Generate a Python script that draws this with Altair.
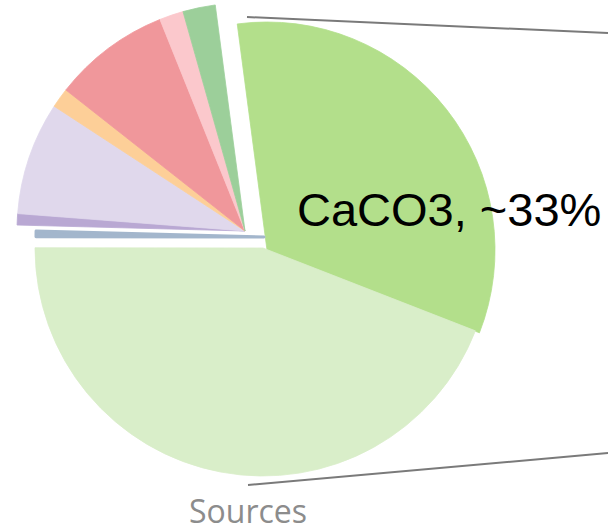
import math

import altair as alt
import pandas as pd

# Pie slices, listed clockwise from the CaCO3 wedge
sources = ["CaCO3", "Source B", "Source C", "Source D", "Source E",
           "Source F", "Source G", "Source H", "Source I"]
shares = [33, 44.1, 0.4, 0.8, 8.0, 1.4, 8.3, 1.7, 2.3]
colors = ["#b3df8b", "#d9eec9", "#a3b6cc", "#b9a8d3", "#e0d8ec",
          "#fdcf98", "#f0979b", "#fbc8cc", "#9ccf9a"]

chart_title = "Sources"

# Layout / styling (kept apart from the data)
W, H = 608, 531
RADIUS = 228
START = math.radians(-7.5)           # where the first wedge begins
# the pie is pulled apart: wedge centre for each slice
centre_x = [267, 263, 264, 245, 245, 245, 245, 245, 245]
centre_y = [250, 248, 237, 231, 231, 231, 231, 231, 231]
# the hairline wedge gets a thicker outline so it reads as a bar
thin_slice = "Source C"

df = pd.DataFrame({
    "source": sources,
    "share": shares,
    "order": list(range(len(sources))),
    "cx": centre_x,
    "cy": centre_y,
})

color_scale = alt.Scale(domain=sources, range=colors)

wedges = (
    alt.Chart(df)
    .transform_joinaggregate(total="sum(share)")
    .transform_window(cum="sum(share)", sort=[alt.SortField("order")], frame=[None, 0])
    .transform_calculate(
        t_end="datum.cum / datum.total",
        t_start="(datum.cum - datum.share) / datum.total",
    )
    .mark_arc(radius=RADIUS, strokeJoin="round")
    .encode(
        theta=alt.Theta("t_start:Q", scale=alt.Scale(domain=[0, 1], range=[START, START + 2 * math.pi])),
        theta2="t_end:Q",
        x=alt.X("cx:Q", scale=None, axis=None, stack=None),
        y=alt.Y("cy:Q", scale=None, axis=None, stack=None),
        color=alt.Color("source:N", scale=color_scale, legend=None),
        stroke=alt.Stroke("source:N", scale=color_scale, legend=None),
        strokeWidth=alt.condition(alt.datum.source == thin_slice, alt.value(3), alt.value(0.8)),
        order=alt.Order("order:Q"),
    )
)

label = (
    alt.Chart(df)
    .transform_filter(alt.datum.source == "CaCO3")
    .transform_calculate(txt="datum.source + ', ~' + datum.share + '%'")
    .mark_text(font="Liberation Sans", fontSize=47, color="#000000",
               align="left", baseline="alphabetic")
    .encode(text="txt:N", x=alt.value(297), y=alt.value(226))
)

title = (
    alt.Chart(pd.DataFrame({"t": [chart_title]}))
    .mark_text(font="Open Sans", fontSize=32, color="#8c8c8c",
               align="center", baseline="alphabetic")
    .encode(text="t:N", x=alt.value(248), y=alt.value(523))
)

# connector lines leading off to the right
connector_top = (
    alt.Chart(pd.DataFrame({"k": [0]}))
    .mark_rule(color="#7a7a7a", strokeWidth=2)
    .encode(x=alt.value(247), y=alt.value(17), x2=alt.value(608), y2=alt.value(33))
)
connector_bottom = (
    alt.Chart(pd.DataFrame({"k": [0]}))
    .mark_rule(color="#7a7a7a", strokeWidth=2)
    .encode(x=alt.value(248), y=alt.value(485), x2=alt.value(608), y2=alt.value(453))
)

chart = (
    alt.layer(connector_top, connector_bottom, wedges, label, title)
    .properties(width=W, height=H, padding=0, autosize="none", background="white")
    .configure_view(stroke=None)
)

chart.save("out.html", embed_options={"renderer": "svg", "actions": False})
